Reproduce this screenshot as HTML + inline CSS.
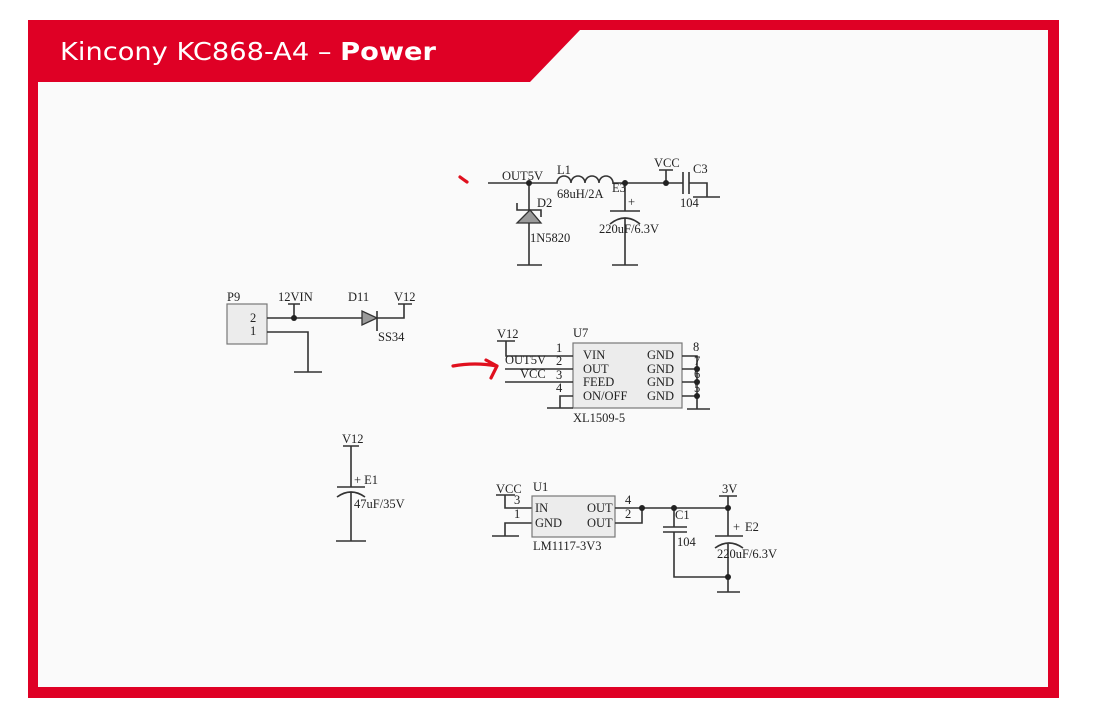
<!DOCTYPE html>
<html><head><meta charset="utf-8"><style>
html,body{margin:0;padding:0;background:#fff;}
svg{display:block;}
.s{fill:none;stroke:#333;stroke-width:1.6;}
.t{font-family:"Liberation Serif",serif;font-size:12.5px;fill:#222;}
.r{fill:none;stroke:#e0101e;stroke-width:3.2;stroke-linecap:round;stroke-linejoin:round;}
</style></head><body>
<svg width="1115" height="718" viewBox="0 0 1115 718" xmlns="http://www.w3.org/2000/svg">
<rect x="0" y="0" width="1115" height="718" fill="#fff"/>
<rect x="28" y="20" width="1031" height="678" fill="#df0025"/>
<rect x="38" y="30" width="1010" height="657" fill="#fafafa"/>
<polygon points="38,30 580,30 530,82 38,82" fill="#df0025"/>
<text x="60" y="60" font-family="DejaVu Sans, Verdana, sans-serif" font-size="25" fill="#fff" textLength="376" lengthAdjust="spacingAndGlyphs">Kincony KC868-A4 – <tspan font-weight="bold">Power</tspan></text>

<!-- Top circuit -->
<path class="r" d="M460 177 Q464 180 467 182"/>
<path class="s" d="M488 183 H557 a7 7 0 0 1 14 0 a7 7 0 0 1 14 0 a7 7 0 0 1 14 0 a7 7 0 0 1 14 0 H683"/>
<path class="s" d="M529 183 V265 M517 265 H542"/>
<polygon points="530,210 517,223 541,223" fill="#9a9a9a" stroke="#333" stroke-width="1.3"/>
<path class="s" d="M517 203 V210 H541 V217"/>
<path class="s" d="M625 183 V211 M610 211 H640 M610 224 Q625 212 640 224 M625 218 V265 M612 265 H638"/>
<path class="s" d="M666 183 V170 M659 170 H673"/>
<path class="s" d="M683 172 V194 M689 172 V194 M689 183 H707 V197 M693 197 H720"/>
<circle cx="529" cy="183" r="3" fill="#222"/>
<circle cx="625" cy="183" r="3" fill="#222"/>
<circle cx="666" cy="183" r="3" fill="#222"/>
<text class="t" x="502" y="180">OUT5V</text>
<text class="t" x="557" y="174">L1</text>
<text class="t" x="557" y="198">68uH/2A</text>
<text class="t" x="612" y="192">E3</text>
<text class="t" x="537" y="207">D2</text>
<text class="t" x="530" y="242">1N5820</text>
<text class="t" x="628" y="206">+</text>
<text class="t" x="599" y="233">220uF/6.3V</text>
<text class="t" x="654" y="167">VCC</text>
<text class="t" x="693" y="173">C3</text>
<text class="t" x="680" y="207">104</text>

<!-- P9 -->
<rect x="227" y="304" width="40" height="40" fill="#ececec" stroke="#777" stroke-width="1.2"/>
<text class="t" x="227" y="301">P9</text>
<text class="t" x="250" y="322">2</text>
<text class="t" x="250" y="335">1</text>
<path class="s" d="M267 318 H362 M294 318 V304 M288 304 H300"/>
<circle cx="294" cy="318" r="3" fill="#222"/>
<polygon points="362,311 362,325 377,318" fill="#9a9a9a" stroke="#333" stroke-width="1.3"/>
<path class="s" d="M377 311 V331 M377 318 H404 V304 M398 304 H412"/>
<path class="s" d="M267 332 H308 V372 M294 372 H322"/>
<text class="t" x="278" y="301">12VIN</text>
<text class="t" x="348" y="301">D11</text>
<text class="t" x="394" y="301">V12</text>
<text class="t" x="378" y="341">SS34</text>

<!-- U7 -->
<rect x="573" y="343" width="109" height="65" fill="#ececec" stroke="#777" stroke-width="1.2"/>
<text class="t" x="573" y="337">U7</text>
<path class="s" d="M506 341 V356 H573 M497 341 H515 M505 369 H573 M505 382 H573 M560 408 V396 H573 M547 408 H573"/>
<text class="t" x="497" y="338">V12</text>
<text class="t" x="505" y="364">OUT5V</text>
<text class="t" x="520" y="378">VCC</text>
<text class="t" x="556" y="352">1</text>
<text class="t" x="556" y="365">2</text>
<text class="t" x="556" y="379">3</text>
<text class="t" x="556" y="392">4</text>
<text class="t" x="583" y="359">VIN</text>
<text class="t" x="583" y="373">OUT</text>
<text class="t" x="583" y="386">FEED</text>
<text class="t" x="583" y="400">ON/OFF</text>
<text class="t" x="647" y="359">GND</text>
<text class="t" x="647" y="373">GND</text>
<text class="t" x="647" y="386">GND</text>
<text class="t" x="647" y="400">GND</text>
<path class="s" d="M682 356 H697 V409 M682 369 H697 M682 382 H697 M682 396 H697 M687 409 H710"/>
<text class="t" x="693" y="351">8</text>
<text class="t" x="694" y="365" font-size="10">7</text>
<text class="t" x="694" y="378" font-size="10">6</text>
<text class="t" x="694" y="392" font-size="10">5</text>
<circle cx="697" cy="369" r="3" fill="#222"/>
<circle cx="697" cy="382" r="3" fill="#222"/>
<circle cx="697" cy="396" r="3" fill="#222"/>
<text class="t" x="573" y="422">XL1509-5</text>
<path class="r" d="M453 366 Q475 362 497 366 M486 360 L497 366 Q494 372 491 378"/>

<!-- E1 -->
<text class="t" x="342" y="443">V12</text>
<path class="s" d="M343 446 H359 M351 446 V487 M337 487 H365 M337 497 Q351 487 365 497 M351 492 V541 M336 541 H366"/>
<text class="t" x="354" y="484">+ E1</text>
<text class="t" x="354" y="508">47uF/35V</text>

<!-- U1 -->
<text class="t" x="496" y="493">VCC</text>
<path class="s" d="M496 495 H515 M505 495 V508 H532 M532 523 H505 V536 M492 536 H519"/>
<text class="t" x="514" y="504">3</text>
<text class="t" x="514" y="518">1</text>
<rect x="532" y="496" width="83" height="41" fill="#ececec" stroke="#777" stroke-width="1.2"/>
<text class="t" x="533" y="491">U1</text>
<text class="t" x="535" y="512">IN</text>
<text class="t" x="535" y="527">GND</text>
<text class="t" x="587" y="512">OUT</text>
<text class="t" x="587" y="527">OUT</text>
<text class="t" x="533" y="550">LM1117-3V3</text>
<path class="s" d="M615 508 H728 M615 523 H642 V508"/>
<text class="t" x="625" y="504">4</text>
<text class="t" x="625" y="518">2</text>
<path class="s" d="M674 508 V527 M663 527 H687 M663 532 H687 M674 532 V577 H728"/>
<text class="t" x="675" y="519">C1</text>
<text class="t" x="677" y="546">104</text>
<path class="s" d="M728 508 V496 M719 496 H737"/>
<text class="t" x="722" y="493">3V</text>
<path class="s" d="M728 508 V536 M715 536 H743 M715 548 Q729 538 743 548 M728 543 V592 M717 592 H740"/>
<text class="t" x="733" y="531">+</text>
<text class="t" x="745" y="531">E2</text>
<text class="t" x="717" y="558">220uF/6.3V</text>
<circle cx="642" cy="508" r="3" fill="#222"/>
<circle cx="674" cy="508" r="3" fill="#222"/>
<circle cx="728" cy="508" r="3" fill="#222"/>
<circle cx="728" cy="577" r="3" fill="#222"/>
</svg>
</body></html>
